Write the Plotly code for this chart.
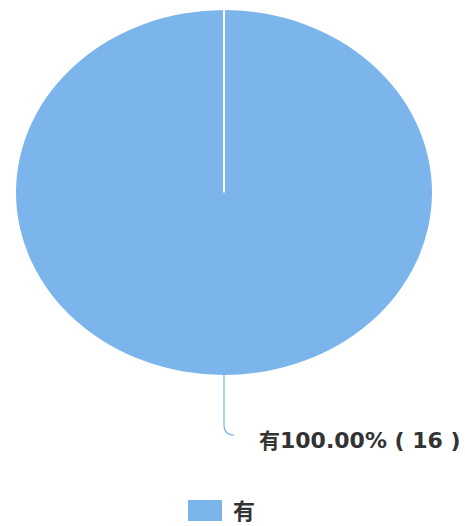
import plotly.graph_objects as go

categories = ["有"]
values = [16]
colors = ["#7cb5ec"]

W, H = 465, 526

def px(x):
    return x / W

def py(y):
    return 1 - y / H

total = sum(values)
pct = values[0] / total * 100
label_text = (f"<span style='font-size:21px'>{categories[0]}</span>"
              f"{pct:.2f}% ( {values[0]} )")

cx, cy, ry = 224, 192.5, 182.5
rx = 208.0
sx = rx / ry

fig = go.Figure(go.Pie(
    labels=categories,
    values=values,
    marker=dict(colors=colors, line=dict(color="white", width=0)),
    textinfo="none",
    textposition="none",
    sort=False,
    direction="clockwise",
    rotation=0,
    hoverinfo="label+percent+value",
    domain=dict(x=[px(cx - ry), px(cx + ry)], y=[py(cy + ry), py(cy - ry)]),
    showlegend=False,
))

shapes = [
    # slice border from center to top
    dict(type="line", xref="paper", yref="paper",
         x0=px(cx), y0=py(cy), x1=px(cx), y1=py(cy - ry),
         line=dict(color="white", width=2)),
    # connector line
    dict(type="path", xref="paper", yref="paper",
         path=f"M {px(cx)},{py(cy + ry)} L {px(cx)},{py(425)} Q {px(cx)},{py(435)} {px(234)},{py(435)}",
         line=dict(color="#7cb5ec", width=1.2)),
    # legend swatch
    dict(type="rect", xref="paper", yref="paper",
         x0=px(188), x1=px(222), y0=py(521), y1=py(500),
         fillcolor=colors[0], line=dict(width=0)),
]

annotations = [
    dict(text=f"<b>{label_text}</b>", x=px(257), y=py(440), xref="paper", yref="paper",
         xanchor="left", yanchor="middle", showarrow=False,
         font=dict(family="DejaVu Sans, Noto Sans CJK SC", size=22, color="#333333")),
    dict(text=f"<b>{categories[0]}</b>", x=px(231), y=py(509), xref="paper", yref="paper",
         xanchor="left", yanchor="middle", showarrow=False,
         font=dict(family="Noto Sans CJK SC", size=22, color="#333333")),
]

fig.update_layout(
    width=W, height=H,
    margin=dict(l=0, r=0, t=0, b=0),
    paper_bgcolor="white",
    plot_bgcolor="white",
    shapes=shapes,
    annotations=annotations,
)

post = (
    "document.body.style.margin='0';"
    "var gd=document.getElementById('{plot_id}');"
    "var pl=gd.querySelector('.pielayer');"
    f"if(pl){{pl.setAttribute('transform','translate({cx},0) scale({sx:.4f},1) translate({-cx},0)');}}"
)

fig.write_html("out.html", post_script=post, config={"displayModeBar": False})
